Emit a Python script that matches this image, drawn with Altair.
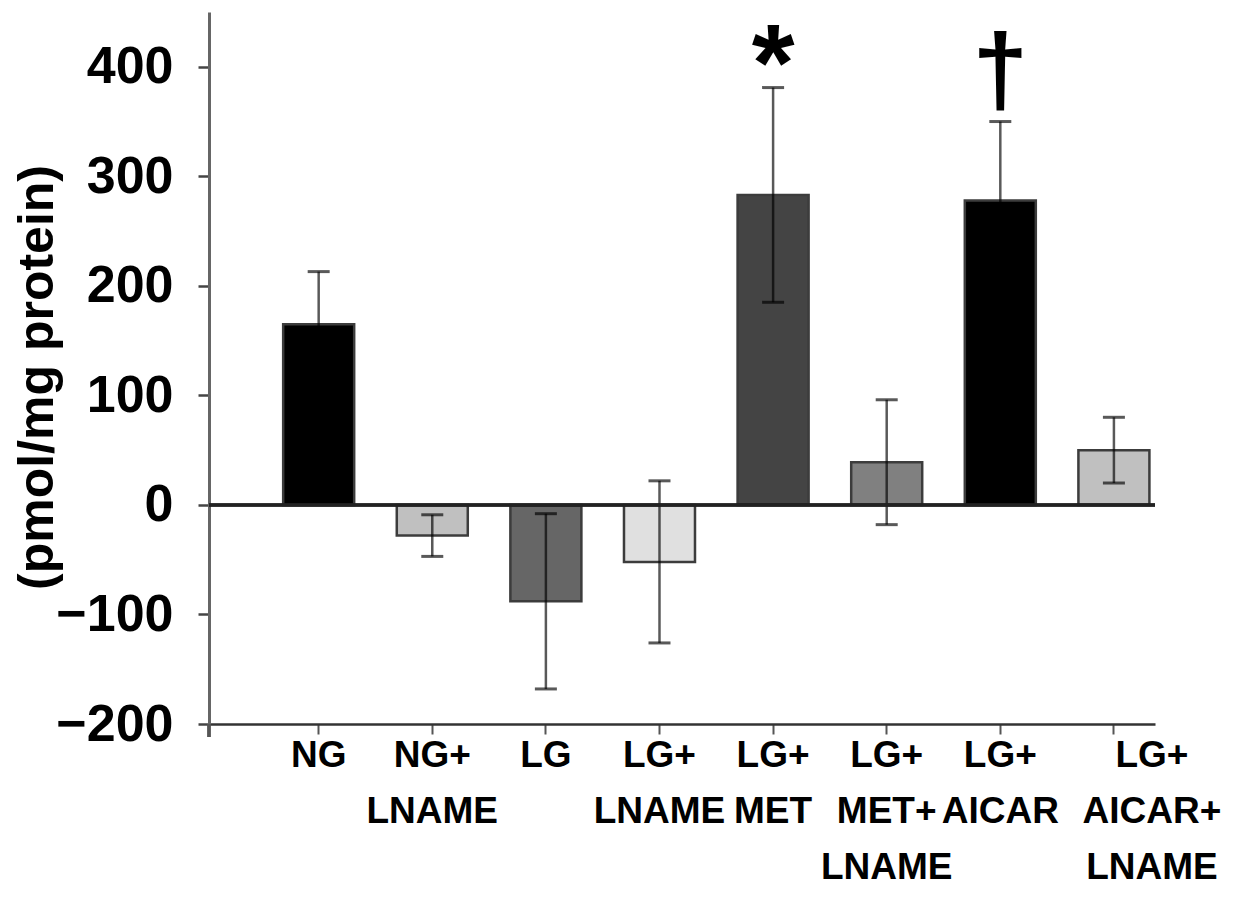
import altair as alt
import pandas as pd

groups = ["NG", "NG+ LNAME", "LG", "LG+ LNAME", "LG+ MET", "LG+ MET+ LNAME", "LG+ AICAR", "LG+ AICAR+ LNAME"]
means = [165, -28, -88, -52, 283, 39, 278, 50]
errors = [48, 19, 80, 74, 98, 57, 72, 30]
marks = ["", "", "", "", "*", "", "\u2020", ""]
fills = ["#000000", "#c0c0c0", "#666666", "#e0e0e0", "#444444", "#808080", "#000000", "#c0c0c0"]
y_ticks = [-200, -100, 0, 100, 200, 300, 400]

df = pd.DataFrame({"group": groups, "mean": means, "err": errors, "mark": marks})

FONT = "Liberation Sans"

x_axis = alt.Axis(
    title=None, labelAngle=0, labelFont=FONT, labelFontWeight="bold", labelFontSize=37,
    labelColor="#000000", labelBaseline="top", labelPadding=3, labelLineHeight=56,
    labelExpr="split(datum.label, ' ')", labelOverlap=False, labelLimit=0,
    labelOffset={"condition": {"test": "datum.value === 'LG+ AICAR+ LNAME'", "value": 38}, "value": 0},
    domainColor="#333333", domainWidth=2.5, tickColor="#555555", tickWidth=2, tickSize=10,
)
x_enc = alt.X("group:N", sort=groups,
              scale=alt.Scale(paddingInner=0.375, paddingOuter=0.351, align=0.93),
              axis=x_axis)

y_axis = alt.Axis(
    values=y_ticks, grid=False, title="(pmol/mg protein)",
    labelFont=FONT, labelFontWeight="bold", labelFontSize=52, labelColor="#000000",
    labelPadding=25, tickSize=11, tickColor="#444444", tickWidth=2.5,
    domainColor="#666666", domainWidth=3,
    titleFont=FONT, titleFontWeight="bold", titleFontSize=50, titleColor="#000000",
    titleAngle=270, titleX=-157, titleY=365, titleAlign="center", titleBaseline="alphabetic",
)
y_scale = alt.Scale(domain=[-200, 450], nice=False, zero=False)

base = alt.Chart(df).transform_calculate(lo="datum.mean - datum.err", hi="datum.mean + datum.err")

bars = base.mark_bar(stroke="#3c3c3c", strokeWidth=2.5).encode(
    x=x_enc,
    y=alt.Y("mean:Q", scale=y_scale, axis=y_axis),
    y2=alt.datum(0),
    color=alt.Color("group:N", scale=alt.Scale(domain=groups, range=fills), legend=None),
)

err_rule = base.mark_rule(color="#000000", opacity=0.65, strokeWidth=2.5).encode(
    x=x_enc, y=alt.Y("lo:Q", scale=y_scale, axis=y_axis), y2="hi:Q"
)
cap_hi = base.mark_tick(color="#000000", opacity=0.65, thickness=3, size=22).encode(
    x=x_enc, y=alt.Y("hi:Q", scale=y_scale, axis=y_axis)
)
cap_lo = base.mark_tick(color="#000000", opacity=0.65, thickness=3, size=22).encode(
    x=x_enc, y=alt.Y("lo:Q", scale=y_scale, axis=y_axis)
)

zero_line = alt.Chart(df).mark_rule(color="#222222", strokeWidth=2.5).encode(y=alt.datum(0))

origin_tick = alt.Chart(df).mark_rule(color="#555555", strokeWidth=2.5).encode(
    x=alt.value(0), y=alt.value(712), y2=alt.value(725)
)

star = base.transform_filter("datum.mark == '*'").mark_text(
    font=FONT, fontWeight="bold", fontSize=110, baseline="alphabetic", dy=12, color="#000000"
).encode(x=x_enc, y=alt.Y("hi:Q", scale=y_scale, axis=y_axis), text="mark:N")

dagger = base.transform_filter("datum.mark == '\u2020'").mark_text(
    font=FONT, fontWeight="bold", fontSize=100, baseline="alphabetic", dy=-18, color="#000000"
).encode(x=x_enc, y=alt.Y("hi:Q", scale=y_scale, axis=y_axis), text="mark:N")

chart = alt.layer(bars, err_rule, cap_hi, cap_lo, zero_line, origin_tick, star, dagger).properties(
    width=946, height=712,
    autosize=alt.AutoSizeParams(type="none"),
    padding={"left": 209, "top": 12, "right": 84, "bottom": 188},
    background="#ffffff",
).configure_view(stroke=None)

chart.save("out.html", embed_options={"renderer": "svg", "actions": False})
